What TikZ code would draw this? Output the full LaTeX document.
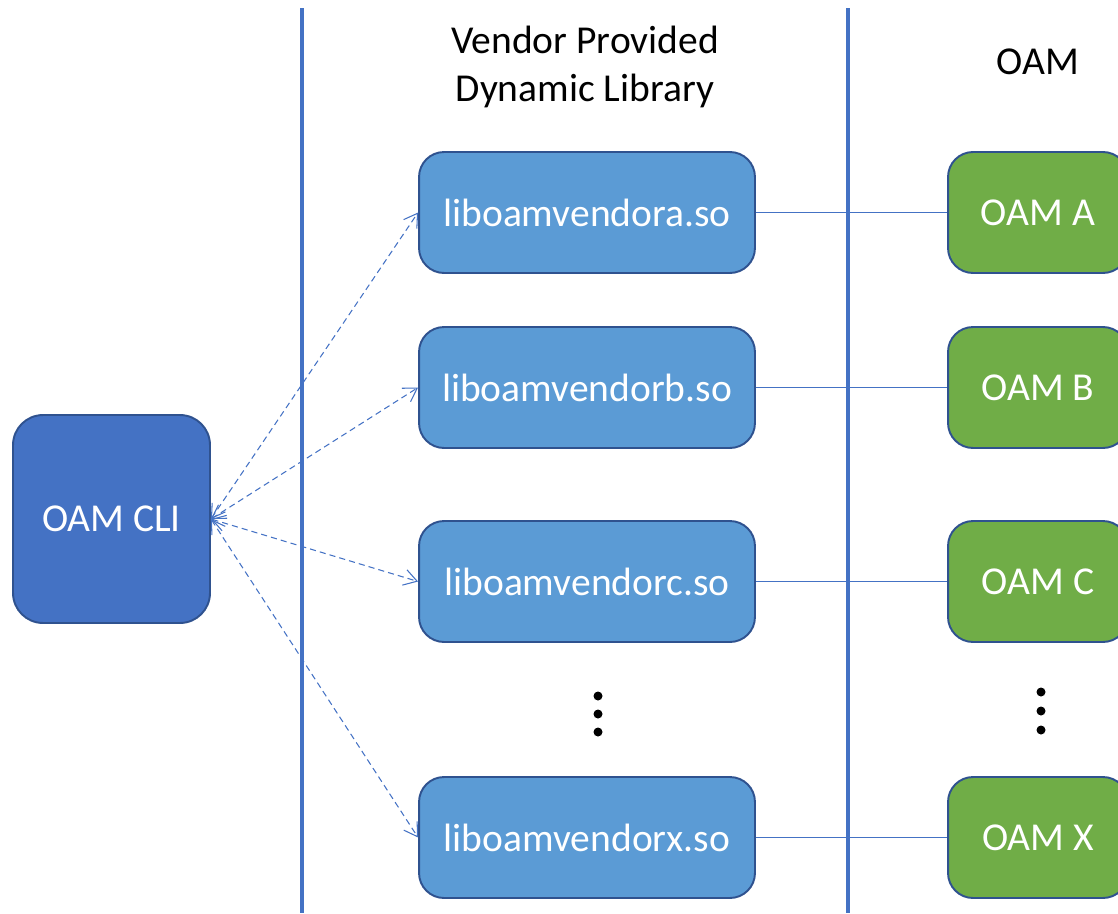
\documentclass[tikz,border=0pt]{standalone}
\usepackage{fontspec}
\setmainfont{Carlito}
\usetikzlibrary{arrows.meta}
\definecolor{libfill}{HTML}{5B9BD5}
\definecolor{oamfill}{HTML}{70AD47}
\definecolor{clifill}{HTML}{4472C4}
\definecolor{edge}{HTML}{2F528F}
\definecolor{sep}{HTML}{4472C4}
\tikzset{
  lib/.style={draw=edge, line width=1.1pt, fill=libfill, rounded corners=0.5cm,
    minimum width=6.72cm, minimum height=2.42cm, text=white,
    font=\fontsize{22.5}{27}\selectfont},
  oambox/.style={draw=edge, line width=1.1pt, fill=oamfill, rounded corners=0.5cm,
    minimum width=3.6cm, minimum height=2.42cm, text=white,
    font=\fontsize{22.5}{27}\selectfont},
  cli/.style={draw=edge, line width=1.1pt, fill=clifill, rounded corners=0.6cm,
    minimum width=3.94cm, minimum height=4.16cm, text=white,
    font=\fontsize{22.5}{27}\selectfont},
  header/.style={align=center, font=\fontsize{22.5}{27.2}\selectfont},
  sepline/.style={draw=sep, line width=2.3pt},
  link/.style={draw=sep, line width=0.6pt},
  callarrow/.style={draw=sep, line width=0.6pt, dash pattern=on 3.5pt off 2.3pt,
    {Straight Barb[length=2.6mm,width=3.2mm]}-{Straight Barb[length=2.6mm,width=3.2mm]}},
  dot/.style={fill=black, circle, inner sep=0pt, minimum size=0.18cm}
}
\begin{document}
\begin{tikzpicture}[x=0.02cm, y=-0.02cm]
\useasboundingbox (0,0) rectangle (1118,913);
% separators
\coordinate (s1t) at (302,8); \coordinate (s1b) at (302,913);
\coordinate (s2t) at (848,8); \coordinate (s2b) at (848,913);
\draw[sepline] (s1t) -- (s1b);
\draw[sepline] (s2t) -- (s2b);
% headers
\node[header] (h1) at (585,67) {Vendor Provided\\Dynamic Library};
\node[header] (h2) at (1038,62) {OAM};
% CLI
\node[cli] (cli) at (111.5,519) {OAM CLI};
% libraries
\node[lib] (la) at (587,212.5) {liboamvendora.so};
\node[lib] (lb) at (587,387.5) {liboamvendorb.so};
\node[lib] (lc) at (587,581.5) {liboamvendorc.so};
\node[lib] (lx) at (587,837.5) {liboamvendorx.so};
% OAM boxes
\node[oambox] (oa) at (1038,212.5) {OAM A};
\node[oambox] (ob) at (1038,387.5) {OAM B};
\node[oambox] (oc) at (1038,581.5) {OAM C};
\node[oambox] (ox) at (1038,837.5) {OAM X};
% dots
\node[dot] (d1) at (598,696) {};
\node[dot] (d2) at (598,714) {};
\node[dot] (d3) at (598,732) {};
\node[dot] (e1) at (1041,692) {};
\node[dot] (e2) at (1041,711) {};
\node[dot] (e3) at (1041,730) {};
% links
\foreach \l/\o in {la/oa, lb/ob, lc/oc, lx/ox} {
  \draw[link] (\l.east) -- (\o.west);
}
% dashed calls
\foreach \l in {la, lb, lc, lx} {
  \draw[callarrow] (cli.east) -- (\l.west);
}
\end{tikzpicture}
\end{document}
